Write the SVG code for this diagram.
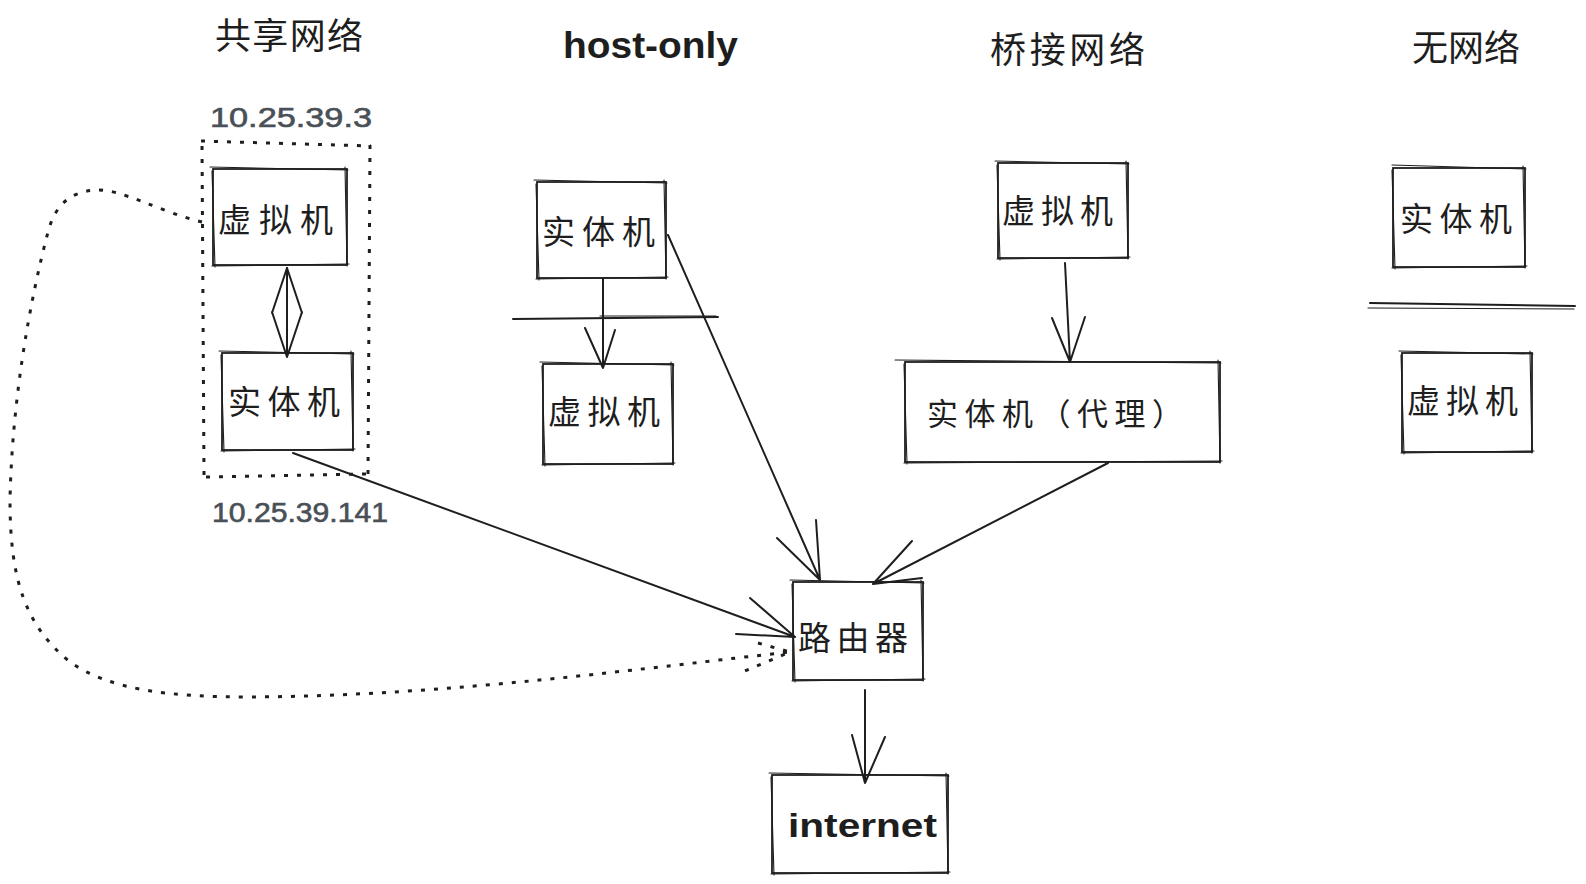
<svg xmlns="http://www.w3.org/2000/svg" width="1586" height="884" viewBox="0 0 1586 884">
<style>
.bg{fill:#ffffff}
.b{fill:none;stroke:#1e1e1e;stroke-width:1.8}
.b2{fill:none;stroke:#1e1e1e;stroke-width:1.1;stroke-linecap:round}
.c{fill:none;stroke:#1e1e1e;stroke-width:2;stroke-linecap:round;stroke-linejoin:round}
.d{fill:none;stroke:#1e1e1e;stroke-width:3;stroke-dasharray:4 9;stroke-linecap:butt}
.cj{font-family:"Noto Sans CJK SC","Noto Sans",sans-serif;fill:#1e1e1e;text-anchor:middle}
.lt{font-family:"Liberation Sans","DejaVu Sans",sans-serif;fill:#1e1e1e}
.ip{font-family:"Liberation Sans","DejaVu Sans",sans-serif;fill:#495057;font-size:27px;stroke:#495057;stroke-width:0.6}
</style>
<rect class="bg" x="0" y="0" width="1586" height="884"/>

<g id="titles">
<text class="cj" x="289" y="49" font-size="36" textLength="148" lengthAdjust="spacing">共享网络</text>
<text class="lt" x="563" y="58" font-size="36" font-weight="bold" textLength="175" lengthAdjust="spacingAndGlyphs">host-only</text>
<text class="cj" x="1067.5" y="63" font-size="36" textLength="155" lengthAdjust="spacing">桥接网络</text>
<text class="cj" x="1466" y="61" font-size="36" textLength="108" lengthAdjust="spacing">无网络</text>
</g>

<g id="shared-group">
<path class="d" d="M201 141 L371 146 M370 145 L368 475 M366 474 L205 477 M204 475 L202 143"/>
<text class="ip" x="210" y="127" textLength="162" lengthAdjust="spacingAndGlyphs">10.25.39.3</text>
<text class="ip" x="212" y="522" textLength="176" lengthAdjust="spacingAndGlyphs">10.25.39.141</text>
</g>

<g id="shared-vm">
<rect class="b" x="213" y="169" width="134" height="96"/>
<path class="b2" d="M210 167 L348 170 M345 167 L347 266 M349 264 L212 266 M215 267 L212 171"/>
<text class="cj" x="275.5" y="231.5" font-size="33" textLength="115" lengthAdjust="spacing">虚拟机</text>
</g>

<g id="shared-host">
<rect class="b" x="222" y="353" width="131" height="97"/>
<path class="b2" d="M219 351 L354 354 M351 351 L353 451 M355 449 L221 451 M224 452 L221 355"/>
<text class="cj" x="284" y="413.5" font-size="33" textLength="112" lengthAdjust="spacing">实体机</text>
</g>

<g id="hostonly-host">
<rect class="b" x="537" y="182" width="129" height="96"/>
<path class="b2" d="M534 180 L667 183 M664 180 L666 279 M668 277 L536 279 M539 280 L536 184"/>
<text class="cj" x="598.5" y="243.5" font-size="33" textLength="113" lengthAdjust="spacing">实体机</text>
</g>

<g id="hostonly-vm">
<rect class="b" x="543" y="364" width="130" height="100"/>
<path class="b2" d="M540 362 L674 365 M671 362 L673 465 M675 463 L542 465 M545 466 L542 366"/>
<text class="cj" x="604" y="423.5" font-size="33" textLength="112" lengthAdjust="spacing">虚拟机</text>
</g>

<g id="bridge-vm">
<rect class="b" x="998" y="163" width="130" height="95"/>
<path class="b2" d="M995 161 L1129 164 M1126 161 L1128 259 M1130 257 L997 259 M1000 260 L997 165"/>
<text class="cj" x="1057.5" y="222.5" font-size="33" textLength="111" lengthAdjust="spacing">虚拟机</text>
</g>

<g id="bridge-host">
<rect class="b" x="905" y="362" width="315" height="100"/>
<path class="b2" d="M895 360 L1221 363 M1218 360 L1220 463 M1222 461 L904 463 M907 464 L904 364"/>
<text class="cj" x="927" y="424.5" font-size="31" style="text-anchor:start" textLength="256" lengthAdjust="spacing">实体机（代理）</text>
</g>

<g id="none-host">
<rect class="b" x="1393" y="168" width="132" height="99"/>
<path class="b2" d="M1392 165 L1526 169 M1523 166 L1525 268 M1527 266 L1392 268 M1395 269 L1392 170"/>
<text class="cj" x="1456" y="230.5" font-size="33" textLength="112" lengthAdjust="spacing">实体机</text>
</g>

<g id="none-vm">
<rect class="b" x="1402" y="353" width="130" height="99"/>
<path class="b2" d="M1399 351 L1533 354 M1530 351 L1532 453 M1534 451 L1401 453 M1404 454 L1401 355"/>
<text class="cj" x="1462.5" y="412.5" font-size="33" textLength="111" lengthAdjust="spacing">虚拟机</text>
</g>

<g id="router">
<rect class="b" x="793" y="582" width="130" height="98"/>
<path class="b2" d="M790 580 L924 583 M921 580 L923 681 M925 679 L792 681 M795 682 L792 584"/>
<text class="cj" x="853" y="649.5" font-size="33" textLength="110" lengthAdjust="spacing">路由器</text>
</g>

<g id="internet">
<rect class="b" x="772" y="775" width="176" height="98"/>
<path class="b2" d="M769 773 L949 776 M946 773 L948 874 M950 872 L771 874 M774 875 L771 777"/>
<text class="lt" x="788" y="837" font-size="34" font-weight="bold" textLength="149" lengthAdjust="spacingAndGlyphs">internet</text>
</g>

<g id="separators">
<path class="c" d="M513 319 L718 317"/>
<path class="b2" d="M600 316 L716 316"/>
<path class="c" d="M1370 303 L1575 306"/>
<path class="b2" d="M1368 308 L1574 309"/>
</g>

<g id="connectors">
<path class="c" stroke-width="2.8" d="M287 268 L287 356"/>
<path class="c" d="M272 313 L287 268 L302 313 M272 312 L287 357 L302 312"/>
<path class="c" d="M293 453 L795 637 M750 598 L795 637 L736 634"/>
<path class="c" d="M668 235 L820 580 M777 538 L820 580 L816 520"/>
<path class="c" d="M603 279 L603 368 M585 328 L603 368 L615 330"/>
<path class="c" d="M1065 263 L1070 362 M1052 318 L1070 362 L1085 317"/>
<path class="c" d="M1108 463 L873 584 M912 541 L873 584 L922 578"/>
<path class="c" d="M865 690 L865 783 M852 735 L865 783 L885 737"/>
<path class="d" d="M202 222 C160 212 120 188 95 190 C70 192 55 205 48 232 C30 300 12 400 10 500 C10 580 25 625 70 662 C110 690 170 697 250 697 C450 696 650 667 790 652"/>
<path class="d" d="M758 643 L790 652 L740 673"/>
</g>
</svg>
